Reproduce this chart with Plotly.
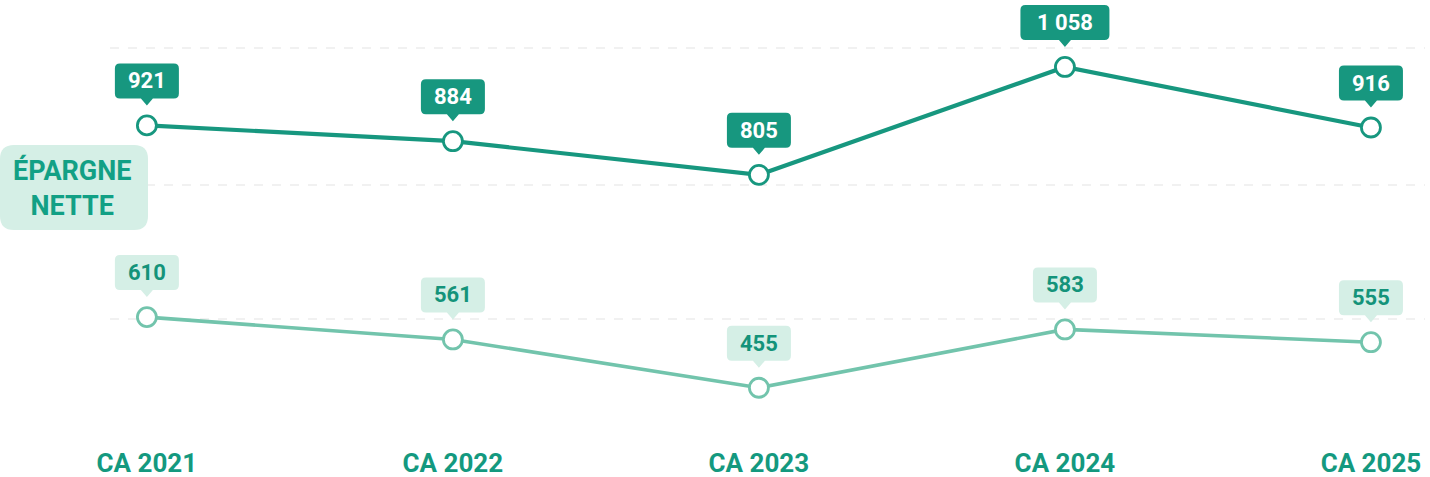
import plotly.graph_objects as go

# ---- data ----
categories = ["CA 2021", "CA 2022", "CA 2023", "CA 2024", "CA 2025"]
epargne_brute = [921, 884, 805, 1058, 916]
epargne_nette = [610, 561, 455, 583, 555]
side_label = "ÉPARGNE<br>NETTE"

# ---- styling ----
W, H = 1430, 477
PLOT_H = 430  # plot-area height in px (t=0, b=47)
DARK = "#17977f"
LIGHT_LINE = "#72c4ac"
LIGHT_BOX = "#d5efe6"
TEXT_DARK = "#14937a"
FONT = "Roboto"

xs = list(range(len(categories)))


def fmt(v):
    return f"{v:,}".replace(",", " ")


def callout_path(w, h=35, d=27, r=5, tw=6, th=7):
    hw = w / 2
    return (
        f"M {-hw + r},{d} L {-tw},{d} L 0,{d - th} L {tw},{d} L {hw - r},{d} "
        f"Q {hw},{d} {hw},{d + r} L {hw},{d + h - r} Q {hw},{d + h} {hw - r},{d + h} "
        f"L {-hw + r},{d + h} Q {-hw},{d + h} {-hw},{d + h - r} L {-hw},{d + r} "
        f"Q {-hw},{d} {-hw + r},{d} Z"
    )


fig = go.Figure()

fig.add_trace(go.Scatter(
    x=xs, y=epargne_brute, mode="lines+markers", yaxis="y",
    line=dict(color=DARK, width=4.2),
    marker=dict(size=19, color="white", line=dict(color=DARK, width=2.8)),
    hoverinfo="skip",
))
fig.add_trace(go.Scatter(
    x=xs, y=epargne_nette, mode="lines+markers", yaxis="y2",
    line=dict(color=LIGHT_LINE, width=3.6),
    marker=dict(size=19, color="white", line=dict(color=LIGHT_LINE, width=2.8)),
    hoverinfo="skip",
))

shapes = []
annotations = []

# faint dashed guide lines
for py in (48, 185, 319):
    shapes.append(dict(
        type="line", xref="paper", yref="paper",
        x0=110 / W, x1=1425 / W, y0=1 - py / PLOT_H, y1=1 - py / PLOT_H,
        line=dict(color="#e3e3e3", width=1, dash="dash"), layer="below",
    ))

# callouts
for series, yref, box, txt_col in (
    (epargne_brute, "y", DARK, "white"),
    (epargne_nette, "y2", LIGHT_BOX, TEXT_DARK),
):
    for x, v in zip(xs, series):
        label = fmt(v)
        w = 64 if len(label) <= 3 else 89
        shapes.append(dict(
            type="path", xref="x", yref=yref,
            xsizemode="pixel", ysizemode="pixel",
            xanchor=x, yanchor=v,
            path=callout_path(w),
            fillcolor=box, line=dict(width=0), layer="above",
        ))
        annotations.append(dict(
            x=x, y=v, xref="x", yref=yref, text=label, showarrow=False,
            yshift=44.5, yanchor="middle",
            font=dict(family=FONT, size=22, color=txt_col, weight="bold"),
        ))

# side label rounded box
bx0, bx1, by0, by1, r = 0, 148, 145, 230, 14
def px(xp):
    return xp / W
def py_(yp):
    return 1 - yp / PLOT_H
path = (
    f"M {px(bx0 + r)},{py_(by0)} L {px(bx1 - r)},{py_(by0)} "
    f"Q {px(bx1)},{py_(by0)} {px(bx1)},{py_(by0 + r)} L {px(bx1)},{py_(by1 - r)} "
    f"Q {px(bx1)},{py_(by1)} {px(bx1 - r)},{py_(by1)} L {px(bx0 + r)},{py_(by1)} "
    f"Q {px(bx0)},{py_(by1)} {px(bx0)},{py_(by1 - r)} L {px(bx0)},{py_(by0 + r)} "
    f"Q {px(bx0)},{py_(by0)} {px(bx0 + r)},{py_(by0)} Z"
)
shapes.append(dict(type="path", xref="paper", yref="paper", path=path,
                   fillcolor=LIGHT_BOX, line=dict(width=0), layer="below"))
annotations.append(dict(
    x=px((bx0 + bx1) / 2 - 2), y=py_((by0 + by1) / 2), xref="paper", yref="paper",
    text=side_label, showarrow=False, xanchor="center", yanchor="middle",
    font=dict(family=FONT, size=27, color="#12a085", weight="bold"),
))

fig.update_layout(
    width=W, height=H,
    margin=dict(l=0, r=0, t=0, b=H - PLOT_H),
    paper_bgcolor="white", plot_bgcolor="white",
    showlegend=False,
    shapes=shapes, annotations=annotations,
    xaxis=dict(
        range=[-0.48, 4.193], tickvals=xs, ticktext=categories,
        showgrid=False, zeroline=False, showline=False, ticks="",
        tickfont=dict(family=FONT, size=26, color="#14997f", weight="bold"),
        ticklabelstandoff=15,
    ),
    yaxis=dict(range=[206.8, 1215.0], visible=False, showgrid=False),
    yaxis2=dict(range=[362.3, 1305.9], visible=False, showgrid=False,
                overlaying="y"),
)

fig.write_html("out.html")
